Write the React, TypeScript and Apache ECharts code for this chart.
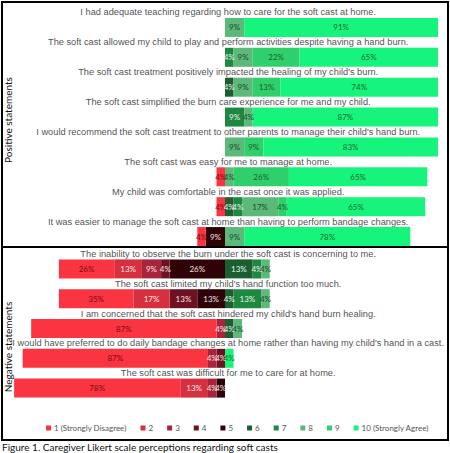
import React, { useEffect, useRef } from "react";
import * as echarts from "echarts";

// Likert levels, 1 = strongly disagree ... 10 = strongly agree
const levels = ["1 (Strongly Disagree)", "2", "3", "4", "5", "6", "7", "8", "9", "10 (Strongly Agree)"];
const levelColors = ["#FA3440", "#D6303E", "#A8243A", "#6E1222", "#2E0206", "#1B5E30", "#1E8740", "#5BB97A", "#2FD06C", "#17F47C"];
const labelColors = ["#7A0A14", "#FFE6E6", "#FBE3E5", "#FBE3E5", "#F5E0E0", "#EAF6EC", "#EAF6EC", "#1E4A2A", "#1A5A2C", "#166A30"];

const positiveStatements = [
  "I had adequate teaching regarding how to care for the soft cast at home.",
  "The soft cast allowed my child to play and perform activities despite having a hand burn.",
  "The soft cast treatment positively impacted the healing of my child's burn.",
  "The soft cast simplified the burn care experience for me and my child.",
  "I would recommend the soft cast treatment to other parents to manage their child's hand burn.",
  "The soft cast was easy for me to manage at home.",
  "My child was comfortable in the cast once it was applied.",
  "It was easier to manage the soft cast at home than having to perform bandage changes.",
];

const negativeStatements = [
  "The inability to observe the burn under the soft cast is concerning to me.",
  "The soft cast limited my child's hand function too much.",
  "I am concerned that the soft cast hindered my child's hand burn healing.",
  "I would have preferred to do daily bandage changes at home rather than having my child's hand in a cast.",
  "The soft cast was difficult for me to care for at home.",
];

// Percent of caregivers per level, one array per level (rows follow the statements above)
const pos1 = [0, 0, 0, 0, 0, 4, 4, 4];
const pos2 = [0, 0, 0, 0, 0, 0, 0, 0];
const pos3 = [0, 0, 0, 0, 0, 0, 0, 0];
const pos4 = [0, 0, 0, 0, 0, 0, 0, 0];
const pos5 = [0, 0, 0, 0, 0, 0, 0, 9];
const pos6 = [0, 0, 4, 0, 0, 0, 4, 0];
const pos7 = [0, 4, 0, 9, 0, 0, 4, 0];
const pos8 = [9, 9, 9, 4, 9, 4, 17, 9];
const pos9 = [0, 22, 13, 0, 9, 26, 4, 0];
const pos10 = [91, 65, 74, 87, 83, 65, 65, 78];

const neg1 = [26, 35, 87, 87, 78];
const neg2 = [13, 17, 0, 0, 13];
const neg3 = [9, 0, 4, 4, 4];
const neg4 = [4, 13, 0, 4, 0];
const neg5 = [26, 13, 0, 0, 4];
const neg6 = [13, 4, 4, 0, 0];
const neg7 = [4, 13, 0, 0, 0];
const neg8 = [4, 4, 4, 0, 0];
const neg9 = [0, 0, 0, 0, 0];
const neg10 = [0, 0, 0, 4, 0];

const positiveByLevel = [pos1, pos2, pos3, pos4, pos5, pos6, pos7, pos8, pos9, pos10];
const negativeByLevel = [neg1, neg2, neg3, neg4, neg5, neg6, neg7, neg8, neg9, neg10];

const STATEMENT_FONT = "'Liberation Sans', Arial, sans-serif";
const LABEL_FONT = "Lato, 'Open Sans', sans-serif";

// Disagreement (1-5) extends left of centre, agreement (6-10) to the right.
// Series listed first in a stack sit next to zero, hence 5..1 then 6..10.
const stackOrder = [4, 3, 2, 1, 0, 5, 6, 7, 8, 9];

function buildBars(byLevel: number[][], gridIndex: number, stack: string) {
  return stackOrder.map((li) => ({
    type: "bar",
    name: levels[li],
    stack,
    xAxisIndex: gridIndex,
    yAxisIndex: gridIndex,
    barWidth: 19,
    itemStyle: { color: levelColors[li] },
    label: {
      show: true,
      position: "inside",
      color: labelColors[li],
      fontFamily: LABEL_FONT,
      fontSize: 8,
      formatter: (p: any) => `${Math.abs(p.value)}%`,
    },
    data: byLevel[li].map((v) => (v === 0 ? null : li < 5 ? -v : v)),
  }));
}

function buildStatements(statements: string[], gridIndex: number) {
  return {
    type: "scatter",
    xAxisIndex: gridIndex,
    yAxisIndex: gridIndex,
    symbolSize: 0,
    silent: true,
    z: 5,
    label: {
      show: true,
      position: "inside",
      offset: [0, -15],
      color: "#1a1a1a",
      fontFamily: STATEMENT_FONT,
      fontSize: 9.25,
      formatter: (p: any) => p.value[1],
    },
    data: statements.map((s) => [1.5, s]),
  };
}

export default function App() {
  const ref = useRef<HTMLDivElement>(null);

  useEffect(() => {
    if (!ref.current) return;
    const chart = echarts.init(ref.current, undefined, { renderer: "svg" });

    const valueAxis = (gridIndex: number) => ({
      type: "value",
      gridIndex,
      min: -100,
      max: 100,
      show: false,
    });
    const categoryAxis = (gridIndex: number, cats: string[]) => ({
      type: "category",
      gridIndex,
      data: cats,
      inverse: true,
      show: false,
    });

    chart.setOption({
      animation: false,
      backgroundColor: "#ffffff",
      grid: [
        { left: 12, right: 12, top: 12.5, height: 239 },
        { left: 12, right: 12, top: 254, height: 149 },
      ],
      xAxis: [valueAxis(0), valueAxis(1)],
      yAxis: [categoryAxis(0, positiveStatements), categoryAxis(1, negativeStatements)],
      legend: {
        data: levels,
        left: 41,
        top: 419,
        itemWidth: 5,
        itemHeight: 5,
        itemGap: 14,
        icon: "rect",
        selectedMode: false,
        textStyle: { fontFamily: LABEL_FONT, fontSize: 8, color: "#555555", padding: [0, 0, 0, -2] },
      },
      graphic: [
        {
          type: "rect",
          shape: { x: 2, y: 2, width: 446, height: 438 },
          style: { fill: "none", stroke: "#000000", lineWidth: 2 },
          silent: true,
        },
        {
          type: "line",
          shape: { x1: 2, y1: 247, x2: 448, y2: 247 },
          style: { stroke: "#000000", lineWidth: 2 },
          silent: true,
        },
        {
          type: "text",
          x: 8,
          y: 120,
          rotation: Math.PI / 2,
          style: {
            text: "Positive statements",
            fontFamily: LABEL_FONT,
            fontSize: 10,
            fill: "#111111",
            align: "center",
            verticalAlign: "middle",
          },
        },
        {
          type: "text",
          x: 8,
          y: 347,
          rotation: Math.PI / 2,
          style: {
            text: "Negative statements",
            fontFamily: LABEL_FONT,
            fontSize: 10,
            fill: "#111111",
            align: "center",
            verticalAlign: "middle",
          },
        },
        {
          type: "text",
          x: 2,
          y: 447,
          style: {
            text: "Figure 1. Caregiver Likert scale perceptions regarding soft casts",
            fontFamily: LABEL_FONT,
            fontSize: 10,
            fill: "#111111",
            align: "left",
            verticalAlign: "middle",
          },
        },
      ],
      series: [
        ...buildBars(positiveByLevel, 0, "positive"),
        ...buildBars(negativeByLevel, 1, "negative"),
        buildStatements(positiveStatements, 0),
        buildStatements(negativeStatements, 1),
      ],
    });

    return () => chart.dispose();
  }, []);

  return (
    <div
      ref={ref}
      style={{ position: "fixed", left: 0, top: 0, width: 450, height: 453, background: "#fff" }}
    />
  );
}
